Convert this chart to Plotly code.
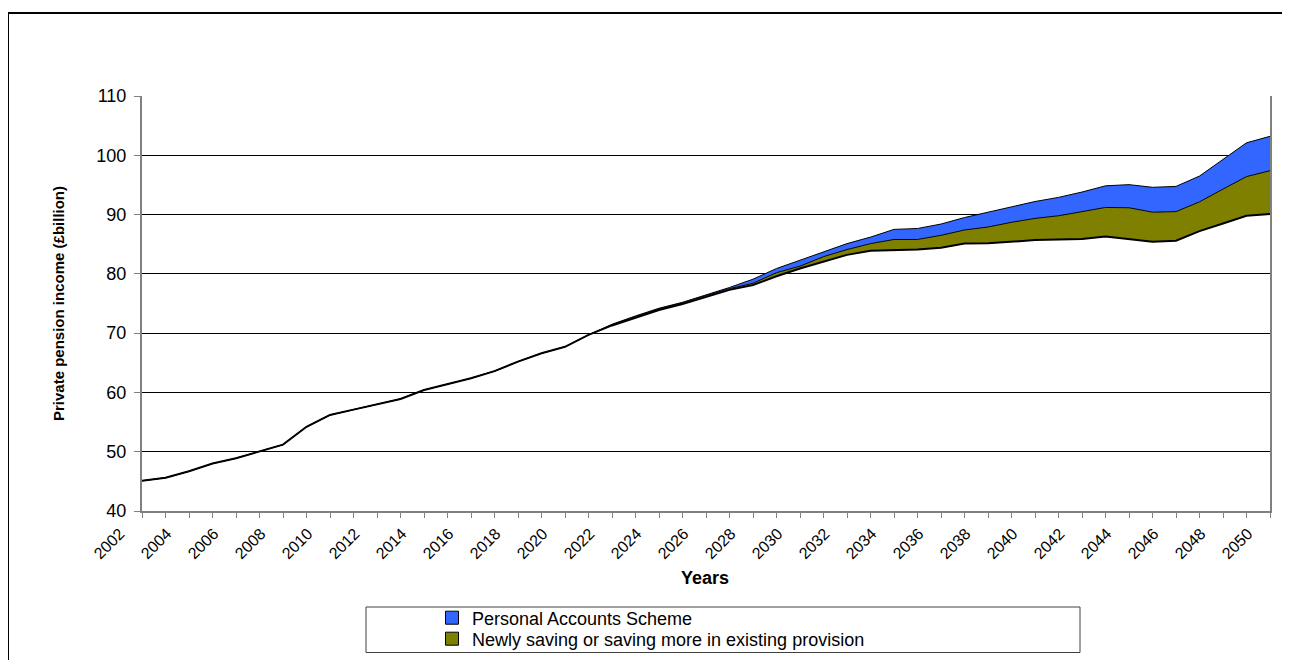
import plotly.graph_objects as go

years = list(range(2002, 2051))

base_income = [
    45.1, 45.6, 46.7, 48.0, 48.9, 50.0, 51.2, 54.2, 56.2, 57.1,
    58.0, 58.9, 60.4, 61.4, 62.4, 63.6, 65.2, 66.6, 67.7, 69.7,
    71.3, 72.6, 73.9, 74.9, 76.1, 77.3, 78.1, 79.6, 80.9, 82.0,
    83.2, 83.9, 84.0, 84.1, 84.4, 85.1, 85.15, 85.4, 85.7, 85.8,
    85.9, 86.3, 85.9, 85.4, 85.6, 87.2, 88.5, 89.8, 90.1,
]

newly_saving = [
    0, 0, 0, 0, 0, 0, 0, 0, 0, 0,
    0, 0, 0, 0, 0, 0, 0, 0, 0, 0,
    0.1, 0.2, 0.2, 0.2, 0.2, 0.2, 0.3, 0.6, 0.4, 0.9,
    0.9, 1.2, 1.8, 1.7, 2.1, 2.3, 2.75, 3.3, 3.65, 4.0,
    4.6, 4.9, 5.25, 5.0, 4.9, 4.95, 5.8, 6.6, 7.3,
]

personal_accounts = [
    0, 0, 0, 0, 0, 0, 0, 0, 0, 0,
    0, 0, 0, 0, 0, 0, 0, 0, 0, 0,
    0.1, 0.1, 0.1, 0.1, 0.1, 0.2, 0.7, 0.7, 1.0, 0.8,
    1.0, 1.1, 1.7, 1.85, 1.9, 2.1, 2.5, 2.6, 2.85, 3.1,
    3.3, 3.65, 3.9, 4.2, 4.25, 4.35, 5.0, 5.7, 5.8,
]

series_names = [
    "Personal Accounts Scheme",
    "Newly saving or saving more in existing provision",
]
series_colors = ["#3366FF", "#808000"]

OFF = 8  # page body margin
W, H = 1290 - OFF, 660 - OFF
L, R, T, B = 142 - OFF, 1270 - OFF, 96 - OFF, 511 - OFF  # plot area


def px(x):
    return (x - OFF - L) / (R - L)


def py(y):
    return (B - (y - OFF)) / (B - T)


fig = go.Figure()
fig.add_trace(go.Scatter(
    x=years, y=base_income, stackgroup="one", fill="none",
    mode="lines", line=dict(color="black", width=2),
    showlegend=False, name="Base", hoverinfo="skip",
))
fig.add_trace(go.Scatter(
    x=years, y=newly_saving, stackgroup="one", fill="tonexty",
    mode="lines", line=dict(color="black", width=1),
    fillcolor=series_colors[1], name=series_names[1], showlegend=False,
))
fig.add_trace(go.Scatter(
    x=years, y=personal_accounts, stackgroup="one", fill="tonexty",
    mode="lines", line=dict(color="black", width=1),
    fillcolor=series_colors[0], name=series_names[0], showlegend=False,
))
# legend keys (square swatches)
for name, color, lg in zip(series_names, series_colors, ["legend", "legend2"]):
    fig.add_trace(go.Scatter(
        x=[None], y=[None], mode="markers", name=name, legend=lg,
        marker=dict(symbol="square", size=13, color=color,
                    line=dict(color="black", width=1)),
    ))

font_family = "Liberation Sans, Arial, sans-serif"
leg_common = dict(
    xanchor="left", yanchor="middle", bgcolor="rgba(0,0,0,0)",
    borderwidth=0, font=dict(size=18, family=font_family), itemwidth=30,
)

fig.update_layout(
    width=W, height=H,
    margin=dict(l=L, r=W - R, t=T, b=H - B, autoexpand=False),
    paper_bgcolor="white", plot_bgcolor="white",
    font=dict(family=font_family, color="black"),
    showlegend=True,
    legend=dict(x=px(432), y=py(618), **leg_common),
    legend2=dict(x=px(432), y=py(639), **leg_common),
    xaxis=dict(
        range=[2002, 2050], tick0=2002, dtick=2,
        showgrid=False, zeroline=False,
        showline=True, linecolor="#808080", linewidth=2,
        ticks="outside", ticklen=5, tickcolor="#808080", tickwidth=1,
        minor=dict(dtick=1, ticks="outside", ticklen=5, tickcolor="#808080"),
        tickangle=-45, tickfont=dict(size=16), ticklabelshift=-22,
        automargin=False,
    ),
    yaxis=dict(
        range=[40, 110], dtick=10,
        showgrid=True, gridcolor="black", gridwidth=1,
        zeroline=False,
        showline=True, linecolor="#808080", linewidth=2, mirror=True,
        ticks="outside", ticklen=6, tickcolor="#808080",
        tickfont=dict(size=18), ticklabelstandoff=4,
        title=dict(text="<b>Private pension income (£billion)</b>",
                   font=dict(size=15), standoff=28),
        automargin=False,
    ),
    annotations=[
        dict(text="<b>Years</b>", xref="paper", yref="paper",
             x=px(705), y=py(578), xanchor="center", yanchor="middle",
             showarrow=False, font=dict(size=18)),
    ],
    shapes=[
        dict(type="rect", xref="paper", yref="paper",
             x0=px(8), x1=px(1300), y0=py(680), y1=py(13),
             line=dict(color="black", width=2), fillcolor="rgba(0,0,0,0)",
             layer="below"),
        dict(type="rect", xref="paper", yref="paper",
             x0=px(366), x1=px(1080), y0=py(652.5), y1=py(607),
             line=dict(color="#404040", width=1), fillcolor="rgba(0,0,0,0)"),
    ],
)

fig.write_html("out.html")
